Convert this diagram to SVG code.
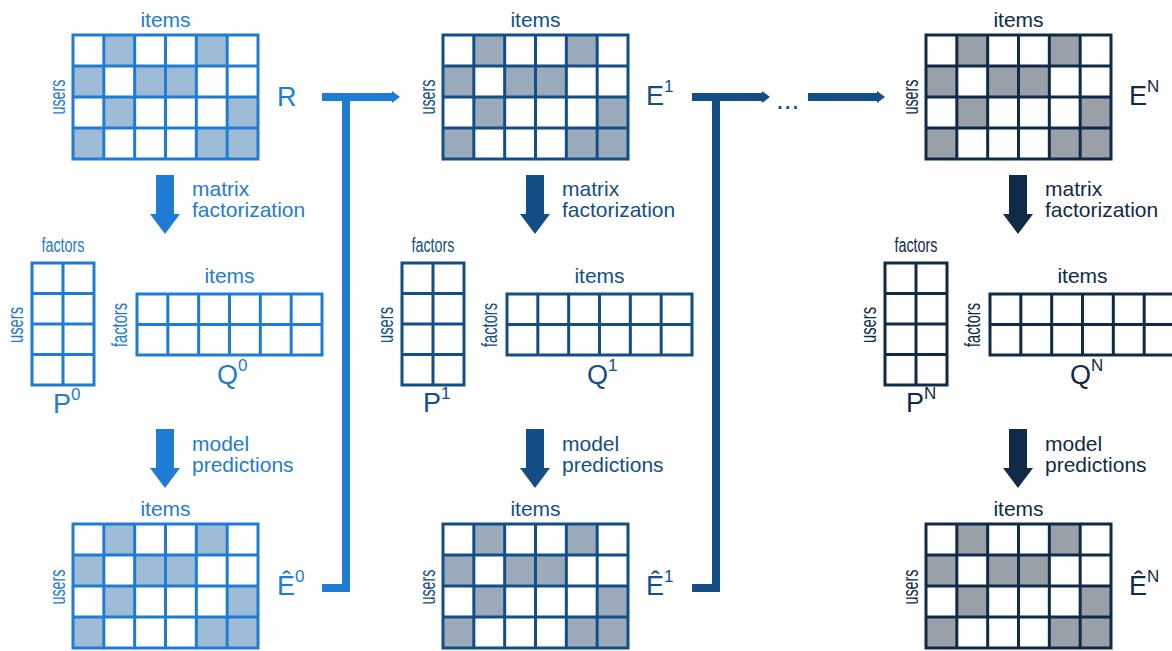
<svg xmlns="http://www.w3.org/2000/svg" xmlns:xlink="http://www.w3.org/1999/xlink" width="1172" height="651" viewBox="0 0 1172 651">
<style>
text{font-family:"Liberation Sans",Arial,sans-serif}
.lbl{font-size:21px}
.ttl{font-size:21px;text-anchor:middle}
.rot{font-size:22px;text-anchor:middle}
.big{font-size:27px}
.sup{font-size:17px}
.c1{fill:#1e7cd2}.c2{fill:#134f86}.c3{fill:#0f2b48}
.conn{fill:none;stroke-width:8;stroke-linejoin:miter;stroke-linecap:butt}
</style>
<defs>
<path id="bigShade" d="M30.83 0h30.83v31h-30.83z M123.33 0h30.83v31h-30.83z M0 31h30.83v31h-30.83z M61.67 31h61.67v31h-61.67z M30.83 62h30.83v31h-30.83z M154.17 62h30.83v31h-30.83z M0 93h30.83v31h-30.83z M123.33 93h61.67v31h-61.67z"/>
<path id="bigGrid" fill="none" stroke-width="3" d="M0 0H185V124H0Z M30.83 0V124 M61.67 0V124 M92.5 0V124 M123.33 0V124 M154.17 0V124 M0 31H185 M0 62H185 M0 93H185"/>
<path id="pGrid" fill="none" stroke-width="3" d="M0 0H62V122H0Z M31 0V122 M0 30.5H62 M0 61H62 M0 91.5H62"/>
<path id="qGrid" fill="none" stroke-width="3" d="M0 0H185V61H0Z M30.83 0V61 M61.67 0V61 M92.5 0V61 M123.33 0V61 M154.17 0V61 M0 30.5H185"/>
<path id="downArrow" d="M-9 0H9V39H15L0 59L-15 39H-9Z"/>
</defs>
<rect width="1172" height="651" fill="#ffffff"/>

<g id="connectors">
<path class="conn" stroke="#1e7cd2" d="M322 97H394 M346 97V588H322"/>
<polygon fill="#1e7cd2" points="392,91 400,97 392,103"/>
<path class="conn" stroke="#134f86" d="M692 97H764 M716 97V588H692"/>
<polygon fill="#134f86" points="762,91 770,97 762,103"/>
<path class="conn" stroke="#134f86" d="M808 97H879"/>
<polygon fill="#134f86" points="877,91 885,97 877,103"/>
</g>

<!-- Column 1 -->
<g id="R">
<text class="ttl c1" x="165.5" y="27">items</text>
<text class="rot c1" x="65" y="97" transform="rotate(-90 65 97)" textLength="35" lengthAdjust="spacingAndGlyphs">users</text>
<use href="#bigShade" x="73" y="35" fill="#9ebbd6"/>
<use href="#bigGrid" x="73" y="35" stroke="#1e7cd2"/>
<text class="big c1" x="277" y="106">R</text>
</g>
<g id="mf0">
<use href="#downArrow" x="165" y="175" fill="#1e7cd2"/>
<text class="lbl c1" x="192" y="196">matrix</text>
<text class="lbl c1" x="192" y="217">factorization</text>
</g>
<g id="P0">
<text class="c1" x="63" y="252" style="font-size:20px;text-anchor:middle" textLength="43" lengthAdjust="spacingAndGlyphs">factors</text>
<text class="rot c1" x="23" y="325" transform="rotate(-90 23 325)" textLength="36" lengthAdjust="spacingAndGlyphs">users</text>
<use href="#pGrid" x="32" y="263" stroke="#1e7cd2"/>
<text class="big c1" x="53" y="413">P<tspan class="sup" dy="-13">0</tspan></text>
</g>
<g id="Q0">
<text class="ttl c1" x="229.5" y="283">items</text>
<text class="rot c1" x="127" y="325" transform="rotate(-90 127 325)" textLength="44" lengthAdjust="spacingAndGlyphs">factors</text>
<use href="#qGrid" x="137" y="294" stroke="#1e7cd2"/>
<text class="big c1" x="217" y="384">Q<tspan class="sup" dy="-13">0</tspan></text>
</g>
<g id="mp0">
<use href="#downArrow" x="165" y="429" fill="#1e7cd2"/>
<text class="lbl c1" x="192" y="451">model</text>
<text class="lbl c1" x="192" y="472">predictions</text>
</g>
<g id="Ehat0">
<text class="ttl c1" x="165.5" y="516">items</text>
<text class="rot c1" x="65" y="587" transform="rotate(-90 65 587)" textLength="35" lengthAdjust="spacingAndGlyphs">users</text>
<use href="#bigShade" x="73" y="524" fill="#9ebbd6"/>
<use href="#bigGrid" x="73" y="524" stroke="#1e7cd2"/>
<text class="big c1" x="277" y="595">Ê<tspan class="sup" dy="-13">0</tspan></text>
</g>

<!-- Column 2 -->
<g id="E1">
<text class="ttl c2" x="535.5" y="27">items</text>
<text class="rot c2" x="435" y="97" transform="rotate(-90 435 97)" textLength="35" lengthAdjust="spacingAndGlyphs">users</text>
<use href="#bigShade" x="443" y="35" fill="#9aaaba"/>
<use href="#bigGrid" x="443" y="35" stroke="#134f86"/>
<text class="big c2" x="646" y="105">E<tspan class="sup" dy="-13">1</tspan></text>
</g>
<g id="mf1">
<use href="#downArrow" x="535" y="175" fill="#134f86"/>
<text class="lbl c2" x="562" y="196">matrix</text>
<text class="lbl c2" x="562" y="217">factorization</text>
</g>
<g id="P1">
<text class="c2" x="433" y="252" style="font-size:20px;text-anchor:middle" textLength="43" lengthAdjust="spacingAndGlyphs">factors</text>
<text class="rot c2" x="393" y="325" transform="rotate(-90 393 325)" textLength="36" lengthAdjust="spacingAndGlyphs">users</text>
<use href="#pGrid" x="402" y="263" stroke="#134f86"/>
<text class="big c2" x="423" y="412">P<tspan class="sup" dy="-13">1</tspan></text>
</g>
<g id="Q1">
<text class="ttl c2" x="599.5" y="283">items</text>
<text class="rot c2" x="497" y="325" transform="rotate(-90 497 325)" textLength="44" lengthAdjust="spacingAndGlyphs">factors</text>
<use href="#qGrid" x="507" y="294" stroke="#134f86"/>
<text class="big c2" x="587" y="384">Q<tspan class="sup" dy="-13">1</tspan></text>
</g>
<g id="mp1">
<use href="#downArrow" x="535" y="429" fill="#134f86"/>
<text class="lbl c2" x="562" y="451">model</text>
<text class="lbl c2" x="562" y="472">predictions</text>
</g>
<g id="Ehat1">
<text class="ttl c2" x="535.5" y="516">items</text>
<text class="rot c2" x="435" y="587" transform="rotate(-90 435 587)" textLength="35" lengthAdjust="spacingAndGlyphs">users</text>
<use href="#bigShade" x="443" y="524" fill="#9aaaba"/>
<use href="#bigGrid" x="443" y="524" stroke="#134f86"/>
<text class="big c2" x="646" y="595">Ê<tspan class="sup" dy="-13">1</tspan></text>
</g>

<g id="ellipsis">
<text class="c2" x="776" y="109" style="font-size:28px">...</text>
</g>

<!-- Column 3 -->
<g id="EN">
<text class="ttl c3" x="1018.5" y="27">items</text>
<text class="rot c3" x="918" y="97" transform="rotate(-90 918 97)" textLength="35" lengthAdjust="spacingAndGlyphs">users</text>
<use href="#bigShade" x="926" y="35" fill="#9aa0a8"/>
<use href="#bigGrid" x="926" y="35" stroke="#0f2b48"/>
<text class="big c3" x="1129" y="105">E<tspan class="sup" dy="-13">N</tspan></text>
</g>
<g id="mfN">
<use href="#downArrow" x="1018" y="175" fill="#0f2b48"/>
<text class="lbl c3" x="1045" y="196">matrix</text>
<text class="lbl c3" x="1045" y="217">factorization</text>
</g>
<g id="PN">
<text class="c3" x="916" y="252" style="font-size:20px;text-anchor:middle" textLength="43" lengthAdjust="spacingAndGlyphs">factors</text>
<text class="rot c3" x="876" y="325" transform="rotate(-90 876 325)" textLength="36" lengthAdjust="spacingAndGlyphs">users</text>
<use href="#pGrid" x="885" y="263" stroke="#0f2b48"/>
<text class="big c3" x="906" y="412">P<tspan class="sup" dy="-13">N</tspan></text>
</g>
<g id="QN">
<text class="ttl c3" x="1082.5" y="283">items</text>
<text class="rot c3" x="980" y="325" transform="rotate(-90 980 325)" textLength="44" lengthAdjust="spacingAndGlyphs">factors</text>
<use href="#qGrid" x="990" y="294" stroke="#0f2b48"/>
<text class="big c3" x="1070" y="384">Q<tspan class="sup" dy="-13">N</tspan></text>
</g>
<g id="mpN">
<use href="#downArrow" x="1018" y="429" fill="#0f2b48"/>
<text class="lbl c3" x="1045" y="451">model</text>
<text class="lbl c3" x="1045" y="472">predictions</text>
</g>
<g id="EhatN">
<text class="ttl c3" x="1018.5" y="516">items</text>
<text class="rot c3" x="918" y="587" transform="rotate(-90 918 587)" textLength="35" lengthAdjust="spacingAndGlyphs">users</text>
<use href="#bigShade" x="926" y="524" fill="#9aa0a8"/>
<use href="#bigGrid" x="926" y="524" stroke="#0f2b48"/>
<text class="big c3" x="1129" y="595">Ê<tspan class="sup" dy="-13">N</tspan></text>
</g>
</svg>
